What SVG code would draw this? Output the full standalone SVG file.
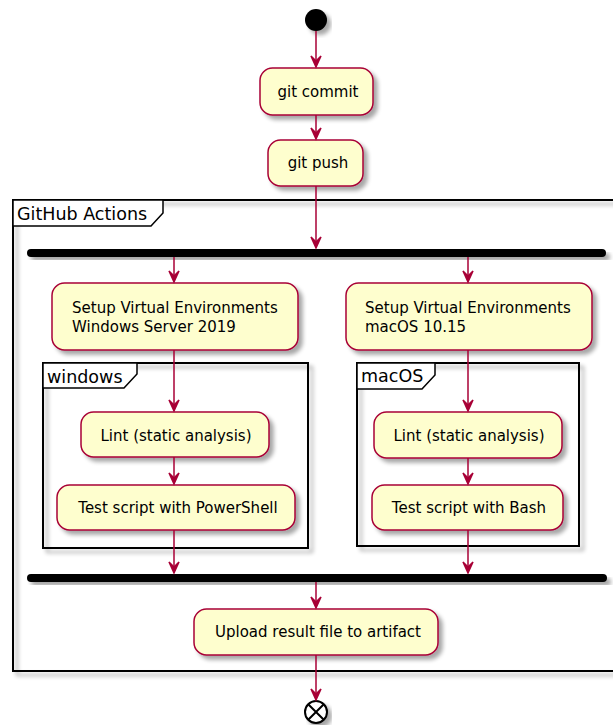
<svg xmlns="http://www.w3.org/2000/svg" xmlns:xlink="http://www.w3.org/1999/xlink" width="613" height="725" viewBox="0 0 613 725">
<style>
.box{fill:#FEFECE;stroke:#A80036;stroke-width:1.5;filter:url(#sh)}
.t{font-family:"DejaVu Sans",Verdana,sans-serif;font-size:15px;fill:#000}
.c{text-anchor:middle}
.ft{font-family:"DejaVu Sans",Verdana,sans-serif;font-size:17.5px;fill:#000}
.frame{fill:none;stroke:#000;stroke-width:2;filter:url(#sh)}
.tab{fill:#fff;stroke:#000;stroke-width:1.5}
.bar{fill:#000;filter:url(#sh)}
.ln{stroke:#A80036;stroke-width:1.5;fill:none}
.ah{fill:#A80036;stroke:#A80036;stroke-width:1.5;stroke-linejoin:miter}
</style>
<defs>
<filter id="sh" x="-10%" y="-10%" width="130%" height="140%">
<feGaussianBlur in="SourceAlpha" stdDeviation="2"/>
<feOffset dx="4" dy="4" result="b"/>
<feComponentTransfer in="b" result="c"><feFuncA type="linear" slope="0.35"/></feComponentTransfer>
<feMerge><feMergeNode in="c"/><feMergeNode in="SourceGraphic"/></feMerge>
</filter>
<path id="ah" class="ah" d="M-5,-12 L0,-1 L5,-12 L0,-7 Z"/>
</defs>

<g id="frame-github-actions">
<rect class="frame" x="13" y="200" width="612" height="471"/>
<path class="tab" d="M13,200 L163,200 L163,213 L151,226 L13,226 Z"/>
<text class="ft" x="17" y="220">GitHub Actions</text>
</g>

<g id="frame-windows">
<rect class="frame" x="43" y="363" width="265" height="185"/>
<path class="tab" d="M43,363 L137,363 L137,374 L124,388 L43,388 Z"/>
<text class="ft" x="47" y="383">windows</text>
</g>

<g id="frame-macos">
<rect class="frame" x="357" y="363" width="222" height="183"/>
<path class="tab" d="M357,363 L435,363 L435,375 L422,389 L357,389 Z"/>
<text class="ft" x="361" y="382">macOS</text>
</g>

<g id="start"><circle cx="316" cy="20" r="11" fill="#000" filter="url(#sh)"/></g>

<g id="git-commit"><rect class="box" x="260" y="68" width="113" height="47" rx="12.5"/><text class="t c" x="318" y="97">git commit</text></g>
<g id="git-push"><rect class="box" x="268" y="140" width="95" height="46" rx="12.5"/><text class="t c" x="318" y="168">git push</text></g>

<g id="fork"><rect class="bar" x="27" y="249" width="579" height="8" rx="4"/></g>

<g id="setup-windows"><rect class="box" x="52" y="283" width="246" height="67" rx="12.5"/>
<text class="t" x="72" y="313">Setup Virtual Environments</text>
<text class="t" x="72" y="332">Windows Server 2019</text></g>
<g id="setup-macos"><rect class="box" x="346" y="283" width="246" height="67" rx="12.5"/>
<text class="t" x="365" y="313">Setup Virtual Environments</text>
<text class="t" x="365" y="332">macOS 10.15</text></g>

<g id="lint-windows"><rect class="box" x="81" y="412" width="188" height="45" rx="12.5"/><text class="t c" x="176" y="441">Lint (static analysis)</text></g>
<g id="test-powershell"><rect class="box" x="57" y="485" width="238" height="45" rx="12.5"/><text class="t c" x="178" y="513">Test script with PowerShell</text></g>

<g id="lint-macos"><rect class="box" x="374" y="412" width="188" height="46" rx="12.5"/><text class="t c" x="469" y="441">Lint (static analysis)</text></g>
<g id="test-bash"><rect class="box" x="372" y="485" width="191" height="45" rx="12.5"/><text class="t c" x="469" y="513">Test script with Bash</text></g>

<g id="join"><rect class="bar" x="27" y="574" width="580" height="8" rx="4"/></g>

<g id="upload"><rect class="box" x="194" y="609" width="244" height="46" rx="12.5"/><text class="t c" x="318" y="637">Upload result file to artifact</text></g>

<g id="end"><circle cx="316" cy="712" r="11" fill="#fff" stroke="#000" stroke-width="2" filter="url(#sh)"/>
<path d="M308.2,704.2 L323.8,719.8 M323.8,704.2 L308.2,719.8" stroke="#000" stroke-width="2"/></g>

<g id="connectors">
<line class="ln" x1="316" y1="31" x2="316" y2="64"/><use xlink:href="#ah" href="#ah" x="316" y="68"/>
<line class="ln" x1="316" y1="115" x2="316" y2="136"/><use xlink:href="#ah" href="#ah" x="316" y="140"/>
<line class="ln" x1="316" y1="186" x2="316" y2="245"/><use xlink:href="#ah" href="#ah" x="316" y="249"/>
<line class="ln" x1="174" y1="257" x2="174" y2="279"/><use xlink:href="#ah" href="#ah" x="174" y="283"/>
<line class="ln" x1="468" y1="257" x2="468" y2="279"/><use xlink:href="#ah" href="#ah" x="468" y="283"/>
<line class="ln" x1="174" y1="350" x2="174" y2="408"/><use xlink:href="#ah" href="#ah" x="174" y="412"/>
<line class="ln" x1="468" y1="350" x2="468" y2="408"/><use xlink:href="#ah" href="#ah" x="468" y="412"/>
<line class="ln" x1="174" y1="457" x2="174" y2="481"/><use xlink:href="#ah" href="#ah" x="174" y="485"/>
<line class="ln" x1="468" y1="458" x2="468" y2="481"/><use xlink:href="#ah" href="#ah" x="468" y="485"/>
<line class="ln" x1="174" y1="530" x2="174" y2="570"/><use xlink:href="#ah" href="#ah" x="174" y="574"/>
<line class="ln" x1="468" y1="530" x2="468" y2="570"/><use xlink:href="#ah" href="#ah" x="468" y="574"/>
<line class="ln" x1="316" y1="582" x2="316" y2="605"/><use xlink:href="#ah" href="#ah" x="316" y="609"/>
<line class="ln" x1="316" y1="655" x2="316" y2="697"/><use xlink:href="#ah" href="#ah" x="316" y="701"/>
</g>
</svg>
